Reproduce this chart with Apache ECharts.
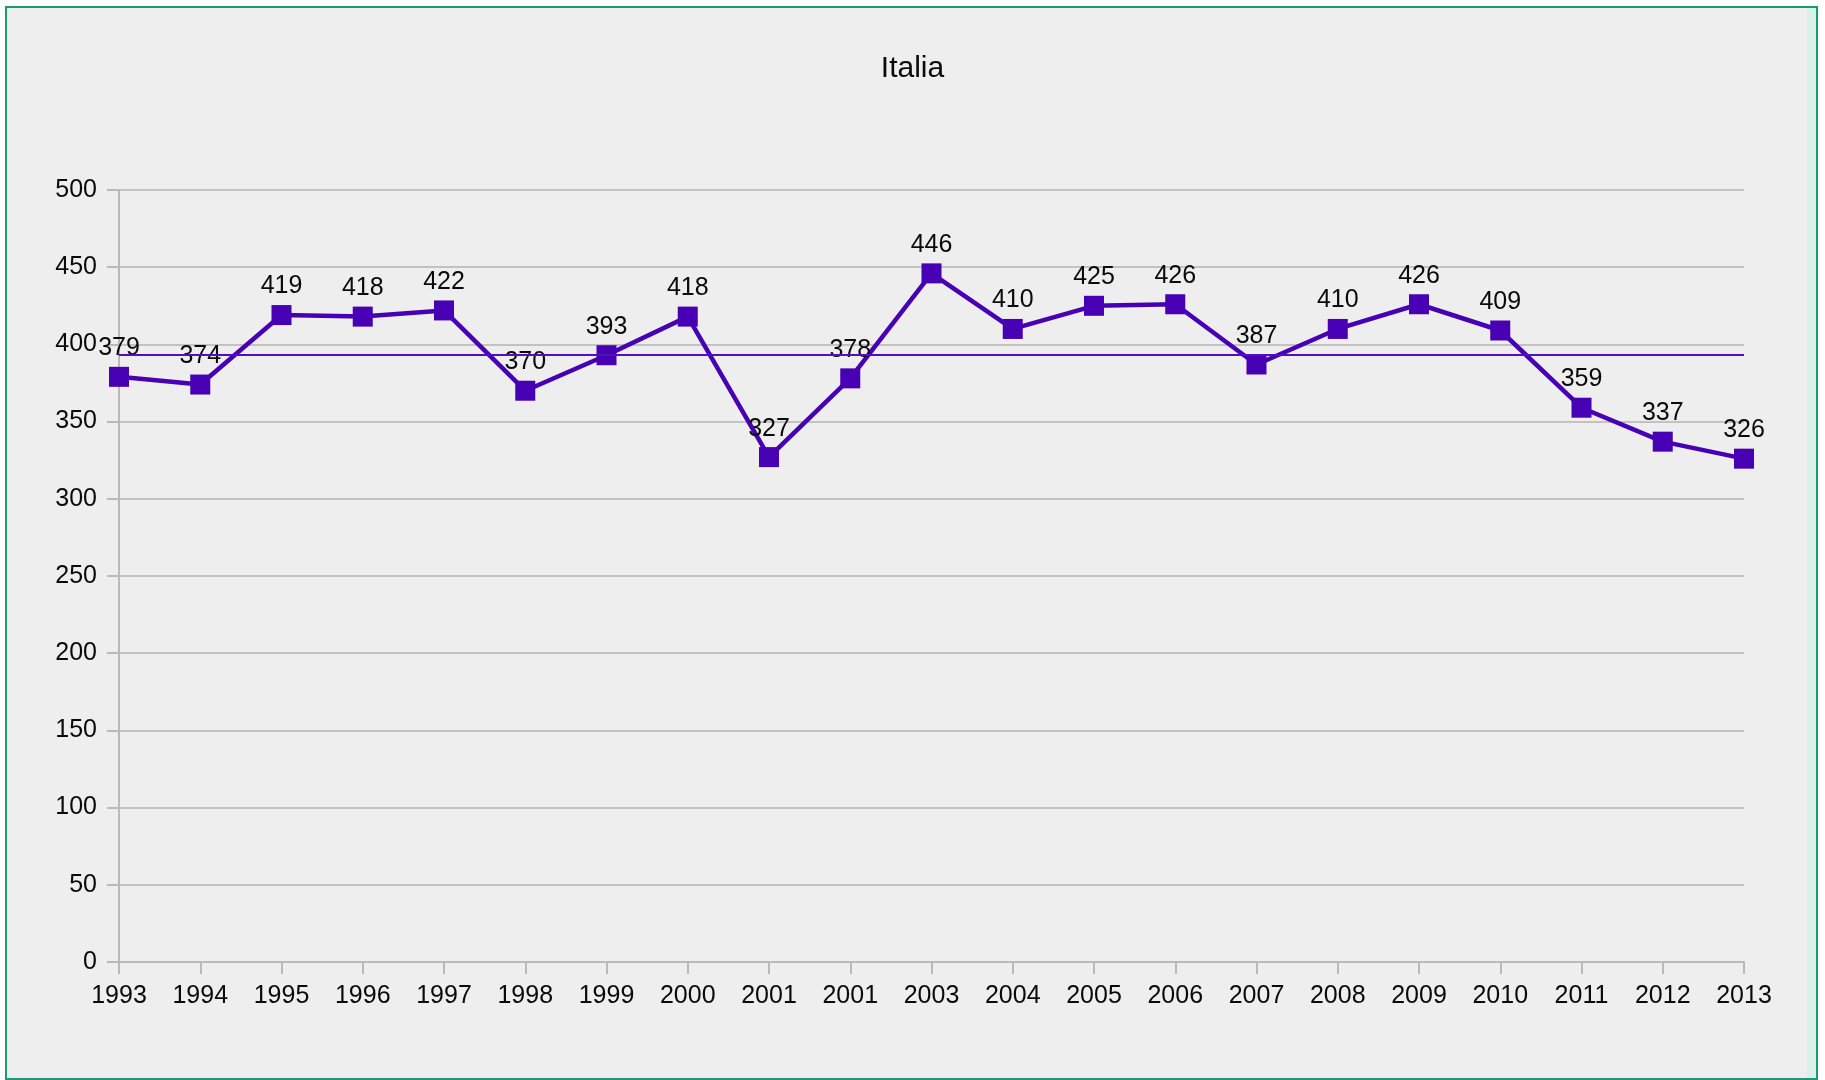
<!DOCTYPE html>
<html>
<head>
<meta charset="utf-8">
<script src="https://cdn.jsdelivr.net/npm/echarts@6/dist/echarts.min.js"></script>
<style>
  html, body { margin: 0; padding: 0; background: #ffffff; width: 1825px; height: 1080px; overflow: hidden; }
  #frame { position: absolute; left: 5px; top: 6px; width: 1813px; height: 1074px; box-sizing: border-box;
           border: 2px solid #1a9a74; background: #eeeeee; }
  #strip { position: absolute; left: 1807px; top: 8px; width: 9px; height: 1070px; background: #d9f1e7; }
  #chart { position: absolute; left: 0; top: 0; width: 1825px; height: 1080px; }
</style>
</head>
<body>
<div id="frame"></div>
<div id="strip"></div>
<div id="chart"></div>
<script>
const categories = ['1993','1994','1995','1996','1997','1998','1999','2000','2001','2001','2003','2004','2005','2006','2007','2008','2009','2010','2011','2012','2013'];
const values = [379,374,419,418,422,370,393,418,327,378,446,410,425,426,387,410,426,409,359,337,326];
const titleText = 'Italia';

const chart = echarts.init(document.getElementById('chart'), null, { renderer: 'canvas' });
const FONT = 'Liberation Sans, Arial, sans-serif';
const COLOR = '#4700b3';
chart.setOption({
  backgroundColor: 'transparent',
  animation: false,
  title: {
    text: titleText,
    left: 'center',
    top: 49,
    padding: [5, 13, 5, 5],
    textStyle: { fontFamily: FONT, fontSize: 30, fontWeight: 'normal', color: '#0a0a0a' }
  },
  grid: { left: 119, right: 81, top: 190, bottom: 118, containLabel: false },
  xAxis: {
    type: 'category',
    data: categories,
    boundaryGap: false,
    axisLine: { show: true, lineStyle: { color: '#b9b9b9', width: 2 } },
    axisTick: { show: true, length: 12, alignWithLabel: true, lineStyle: { color: '#b9b9b9', width: 2 } },
    axisLabel: { margin: 22, fontFamily: FONT, fontSize: 25, color: '#0a0a0a', interval: 0 },
    splitLine: { show: false }
  },
  yAxis: {
    type: 'value',
    min: 0, max: 500, interval: 50,
    axisLine: { show: true, lineStyle: { color: '#b9b9b9', width: 2 } },
    axisTick: { show: true, length: 12, lineStyle: { color: '#b9b9b9', width: 2 } },
    axisLabel: { margin: 22, fontFamily: FONT, fontSize: 25, color: '#0a0a0a' },
    splitLine: { show: true, lineStyle: { color: '#c2c2c2', width: 2 } }
  },
  series: [{
    type: 'line',
    data: values,
    symbol: 'rect',
    symbolSize: 20,
    lineStyle: { color: COLOR, width: 4.5 },
    itemStyle: { color: COLOR },
    label: { show: true, position: 'top', distance: 6, fontFamily: FONT, fontSize: 25, color: '#0a0a0a' },
    markLine: {
      silent: true,
      symbol: 'none',
      label: { show: false },
      lineStyle: { color: '#5010c0', width: 2, type: 'solid' },
      data: [{ type: 'average' }]
    }
  }]
});
</script>
</body>
</html>
